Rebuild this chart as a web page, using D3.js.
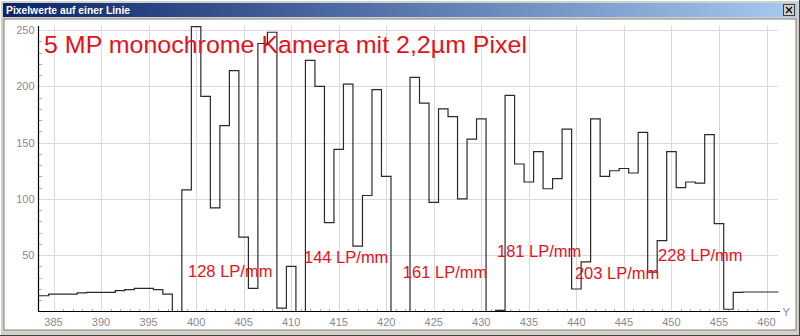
<!doctype html>
<html>
<head>
<meta charset="utf-8">
<title>Pixelwerte auf einer Linie</title>
<style>
  body { margin: 0; background: #d4d0c8; }
  svg { display: block; }
  .grid line { stroke: #dadada; shape-rendering: crispEdges; }
  .ticklbl { font-family: "Liberation Sans", Arial, sans-serif; font-size: 11px; fill: #8a8a8a; }
  .note { font-family: "Liberation Sans", Arial, sans-serif; fill: #e3121c; }
</style>
<script src="https://d3js.org/d3.v7.min.js"></script>
</head>
<body>
<svg width="800" height="336"></svg>
<script>
// pixel positions along the line and the grey values measured there
var pixels = [383, 384, 385, 386, 387, 388, 389, 390, 391, 392, 393, 394, 395, 396, 397, 398, 399,
  400, 401, 402, 403, 404, 405, 406, 407, 408, 409, 410, 411, 412, 413, 414, 415, 416, 417, 418, 419,
  420, 421, 422, 423, 424, 425, 426, 427, 428, 429, 430, 431, 432, 433, 434, 435, 436, 437, 438, 439,
  440, 441, 442, 443, 444, 445, 446, 447, 448, 449, 450, 451, 452, 453, 454, 455, 456, 457, 458, 459,
  460, 461, 462];
var values = [14, 14, 15.5, 15.5, 15.5, 16.5, 17, 17, 17, 18.5, 19.5, 20.5, 20.5, 19.5, 15.5, 0, 108,
  253, 191, 92, 165, 214, 66, 20.5, 238, 248, 3, 40, 0, 223, 200, 79, 144, 202, 58, 103, 197,
  120, 0, 0, 208, 185, 97, 180, 173, 100, 153, 171, 0, 1, 192, 131, 115, 142, 109, 118, 162,
  20, 44, 171, 120, 125, 127, 123, 159, 35, 63, 142, 110, 115, 114, 157, 78, 2, 17, 17.3, 17.3,
  17.3, 17.3, 17.3];

var xTicks = [385, 390, 395, 400, 405, 410, 415, 420, 425, 430, 435, 440, 445, 450, 455, 460];
var yTicks = [50, 100, 150, 200, 250];

var windowTitle = "Pixelwerte auf einer Linie";
var chartTitle = "5 MP monochrome Kamera mit 2,2\u00b5m Pixel";
var labelText = ["128 LP/mm", "144 LP/mm", "161 LP/mm", "181 LP/mm", "203 LP/mm", "228 LP/mm"];
var labelPos = [399.15, 411.35, 421.75, 431.65, 439.85, 448.6];   // x value where the text starts
var labelVal = [30.5, 43, 29.7, 48.4, 28.9, 44.8];                 // y value of the baseline

var svg = d3.select("svg");

// window frame
var defs = svg.append("defs");
var grad = defs.append("linearGradient").attr("id", "titlebar");
grad.append("stop").attr("offset", "0%").attr("stop-color", "#0a246a");
grad.append("stop").attr("offset", "100%").attr("stop-color", "#a6caf0");

svg.append("rect").attr("x", 0).attr("y", 0).attr("width", 800).attr("height", 336).attr("fill", "#d4d0c8");
svg.append("line").attr("x1", 0).attr("y1", 0.5).attr("x2", 800).attr("y2", 0.5).attr("stroke", "#ffffff");
svg.append("line").attr("x1", 0.5).attr("y1", 0).attr("x2", 0.5).attr("y2", 336).attr("stroke", "#ffffff");
svg.append("line").attr("x1", 0).attr("y1", 335.5).attr("x2", 800).attr("y2", 335.5).attr("stroke", "#404040");
svg.append("line").attr("x1", 799.5).attr("y1", 0).attr("x2", 799.5).attr("y2", 336).attr("stroke", "#404040");
svg.append("rect").attr("x", 3).attr("y", 3).attr("width", 794).attr("height", 14).attr("fill", "url(#titlebar)");
svg.append("text").attr("x", 6).attr("y", 13.5)
  .attr("font-family", "'Liberation Sans', Arial, sans-serif").attr("font-weight", "bold").attr("font-size", 10.5)
  .attr("fill", "#ffffff").attr("textLength", 124).attr("lengthAdjust", "spacingAndGlyphs").text(windowTitle);

// close button
svg.append("rect").attr("x", 783.5).attr("y", 4.5).attr("width", 11).attr("height", 11)
  .attr("fill", "#d4d0c8").attr("stroke", "#404040");
svg.append("path").attr("d", "M786,7 L792,13 M792,7 L786,13").attr("stroke", "#000").attr("stroke-width", 1.3);

// plot surface
svg.append("rect").attr("x", 4).attr("y", 19).attr("width", 792).attr("height", 311)
  .attr("fill", "#ffffff").attr("stroke", "#808080");

var x = d3.scaleLinear().domain([385, 460]).range([53.5, 766.5]);
var y = d3.scaleLinear().domain([0, 250]).range([311.5, 30]);
var x0 = 38.5, x1 = 780, yTop = 26, yBase = 311.5;

// grid
var grid = svg.append("g").attr("class", "grid");
grid.selectAll(".gx").data(xTicks).enter().append("line")
  .attr("x1", function(d) { return Math.round(x(d)) + 0.5; })
  .attr("x2", function(d) { return Math.round(x(d)) + 0.5; })
  .attr("y1", yTop).attr("y2", yBase);
grid.selectAll(".gy").data(yTicks).enter().append("line")
  .attr("x1", x0).attr("x2", 778)
  .attr("y1", function(d) { return Math.round(y(d)) + 0.5; })
  .attr("y2", function(d) { return Math.round(y(d)) + 0.5; });

// minor ticks
var minorX = x.ticks(75).filter(function(d) { return d >= 384 && d <= 461 && d % 5 != 0; });
svg.append("g").selectAll("line").data(minorX).enter().append("line")
  .attr("x1", function(d) { return Math.round(x(d)) + 0.5; })
  .attr("x2", function(d) { return Math.round(x(d)) + 0.5; })
  .attr("y1", yBase - 3).attr("y2", yBase)
  .attr("stroke", "#b0b0b0").attr("shape-rendering", "crispEdges");
var minorY = y.ticks(25).filter(function(d) { return d > 0 && d % 50 != 0; });
svg.append("g").selectAll("line").data(minorY).enter().append("line")
  .attr("x1", x0).attr("x2", x0 + 3)
  .attr("y1", function(d) { return Math.round(y(d)) + 0.5; })
  .attr("y2", function(d) { return Math.round(y(d)) + 0.5; })
  .attr("stroke", "#b0b0b0").attr("shape-rendering", "crispEdges");

// tick labels
svg.append("g").selectAll("text").data(xTicks).enter().append("text")
  .attr("class", "ticklbl").attr("text-anchor", "middle")
  .attr("x", function(d) { return x(d); }).attr("y", 325.5)
  .text(function(d) { return d; });
svg.append("g").selectAll("text").data(yTicks).enter().append("text")
  .attr("class", "ticklbl").attr("text-anchor", "end")
  .attr("x", 34.5).attr("y", function(d) { return y(d) + 4; })
  .text(function(d) { return d; });
svg.append("text").attr("class", "ticklbl").attr("x", 782.5).attr("y", 316).text("Y");

// the pixel profile
svg.append("clipPath").attr("id", "plotclip").append("rect")
  .attr("x", x0).attr("y", 20).attr("width", 778.5 - x0).attr("height", yBase - 20 + 1);
var line = d3.line()
  .x(function(d, i) { return x(pixels[i]); })
  .y(function(d) { return y(d); })
  .curve(d3.curveStep);
svg.append("path").datum(values)
  .attr("clip-path", "url(#plotclip)")
  .attr("d", line)
  .attr("fill", "none").attr("stroke", "#2a2a2a").attr("stroke-width", 1.2);

// axes
svg.append("line").attr("x1", x0).attr("x2", x0).attr("y1", yTop).attr("y2", yBase + 0.5)
  .attr("stroke", "#000").attr("stroke-width", 1.2);
svg.append("line").attr("x1", x0).attr("x2", x1).attr("y1", yBase).attr("y2", yBase)
  .attr("stroke", "#000").attr("stroke-width", 1.2);

// annotations
svg.append("text").attr("class", "note").attr("font-size", 24.5)
  .attr("x", 44).attr("y", 53).attr("textLength", 483).attr("lengthAdjust", "spacingAndGlyphs")
  .text(chartTitle);
svg.append("g").selectAll("text").data(labelText).enter().append("text")
  .attr("class", "note").attr("font-size", 16.5)
  .attr("x", function(d, i) { return x(labelPos[i]); })
  .attr("y", function(d, i) { return y(labelVal[i]); })
  .text(function(d) { return d; });
</script>
</body>
</html>
